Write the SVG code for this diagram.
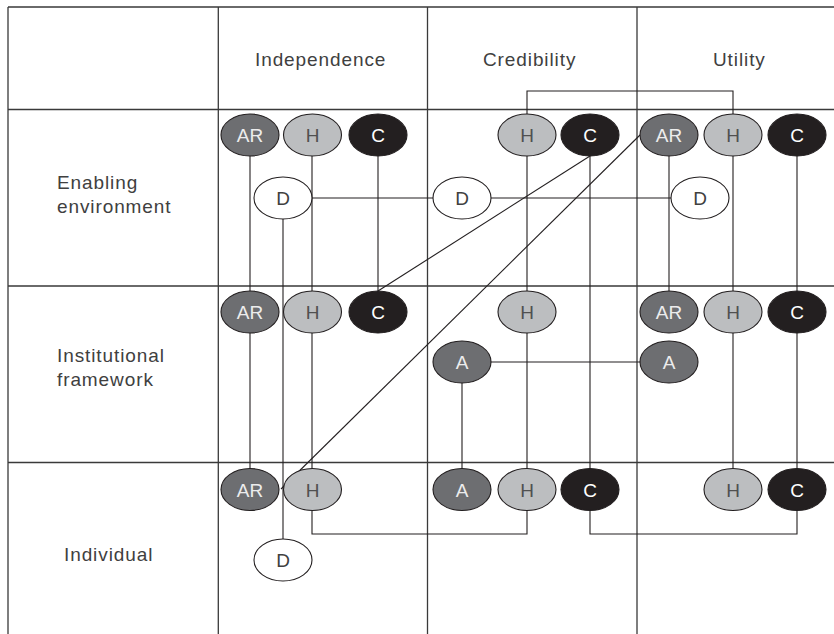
<svg xmlns="http://www.w3.org/2000/svg" width="834" height="634" viewBox="0 0 834 634">
<style>
.grid{stroke:#3a3a3a;stroke-width:1.3;fill:none}
.conn{stroke:#231f20;stroke-width:1.1;fill:none}
.lbl{font-family:"Liberation Sans",Arial,sans-serif;font-size:19px;fill:#404040;letter-spacing:0.9px}
.n ellipse{stroke:#231f20;stroke-width:1.1}
.n text{font-family:"Liberation Sans",Arial,sans-serif;font-size:19px;text-anchor:middle}
.ar ellipse,.a ellipse{fill:#6d6e71}
.ar text,.a text{fill:#ececec}
.h ellipse{fill:#bcbec0}
.h text{fill:#505050}
.c ellipse{fill:#231f20}
.c text{fill:#ffffff}
.d ellipse{fill:#ffffff}
.d text{fill:#404040}
</style>
<rect width="834" height="634" fill="#ffffff"/>
<g id="grid">
<path class="grid" d="M8 7H834M8 109.5H834M8 286H834M8 462.5H834M8 7V634M218.3 7V634M427.5 7V634M637 7V634"/>
</g>
<g id="labels">
<text class="lbl" x="255" y="66">Independence</text>
<text class="lbl" x="483" y="66">Credibility</text>
<text class="lbl" x="713" y="66">Utility</text>
<text class="lbl" x="57" y="189">Enabling</text>
<text class="lbl" x="57" y="213">environment</text>
<text class="lbl" x="57" y="362">Institutional</text>
<text class="lbl" x="57" y="386">framework</text>
<text class="lbl" x="64" y="561">Individual</text>
</g>
<g id="connectors">
<path class="conn" d="M250 135V489"/>
<path class="conn" d="M312 135V534H527V489"/>
<path class="conn" d="M378 135V312"/>
<path class="conn" d="M283 198V560"/>
<path class="conn" d="M283 198H700"/>
<path class="conn" d="M527 489V91H733V489"/>
<path class="conn" d="M590 135V534H797V135"/>
<path class="conn" d="M462 489V362H669"/>
<path class="conn" d="M669 135V312"/>
<path class="conn" d="M590 156L378 291"/>
<path class="conn" d="M640 135L281 489"/>
</g>
<g id="n-ind-ee-ar" class="n ar"><ellipse cx="250" cy="135" rx="29" ry="21"/><text x="250" y="142">AR</text></g>
<g id="n-ind-ee-h" class="n h"><ellipse cx="312.5" cy="135" rx="29" ry="21"/><text x="312.5" y="142">H</text></g>
<g id="n-ind-ee-c" class="n c"><ellipse cx="378" cy="135" rx="29" ry="21"/><text x="378" y="142">C</text></g>
<g id="n-ind-ee-d" class="n d"><ellipse cx="283" cy="198" rx="29" ry="21"/><text x="283" y="205">D</text></g>
<g id="n-cre-ee-h" class="n h"><ellipse cx="527" cy="135" rx="29" ry="21"/><text x="527" y="142">H</text></g>
<g id="n-cre-ee-c" class="n c"><ellipse cx="590" cy="135" rx="29" ry="21"/><text x="590" y="142">C</text></g>
<g id="n-cre-ee-d" class="n d"><ellipse cx="462" cy="198" rx="29" ry="21"/><text x="462" y="205">D</text></g>
<g id="n-uti-ee-ar" class="n ar"><ellipse cx="669" cy="135" rx="29" ry="21"/><text x="669" y="142">AR</text></g>
<g id="n-uti-ee-h" class="n h"><ellipse cx="733" cy="135" rx="29" ry="21"/><text x="733" y="142">H</text></g>
<g id="n-uti-ee-c" class="n c"><ellipse cx="797" cy="135" rx="29" ry="21"/><text x="797" y="142">C</text></g>
<g id="n-uti-ee-d" class="n d"><ellipse cx="700" cy="198" rx="29" ry="21"/><text x="700" y="205">D</text></g>
<g id="n-ind-if-ar" class="n ar"><ellipse cx="250" cy="312" rx="29" ry="21"/><text x="250" y="319">AR</text></g>
<g id="n-ind-if-h" class="n h"><ellipse cx="312.5" cy="312" rx="29" ry="21"/><text x="312.5" y="319">H</text></g>
<g id="n-ind-if-c" class="n c"><ellipse cx="378" cy="312" rx="29" ry="21"/><text x="378" y="319">C</text></g>
<g id="n-cre-if-h" class="n h"><ellipse cx="527" cy="312" rx="29" ry="21"/><text x="527" y="319">H</text></g>
<g id="n-cre-if-a" class="n a"><ellipse cx="462" cy="362" rx="29" ry="21"/><text x="462" y="369">A</text></g>
<g id="n-uti-if-ar" class="n ar"><ellipse cx="669" cy="312" rx="29" ry="21"/><text x="669" y="319">AR</text></g>
<g id="n-uti-if-h" class="n h"><ellipse cx="733" cy="312" rx="29" ry="21"/><text x="733" y="319">H</text></g>
<g id="n-uti-if-c" class="n c"><ellipse cx="797" cy="312" rx="29" ry="21"/><text x="797" y="319">C</text></g>
<g id="n-uti-if-a" class="n a"><ellipse cx="669" cy="362" rx="29" ry="21"/><text x="669" y="369">A</text></g>
<g id="n-ind-in-ar" class="n ar"><ellipse cx="250" cy="489.5" rx="29" ry="21"/><text x="250" y="496.5">AR</text></g>
<g id="n-ind-in-h" class="n h"><ellipse cx="312.5" cy="489.5" rx="29" ry="21"/><text x="312.5" y="496.5">H</text></g>
<g id="n-ind-in-d" class="n d"><ellipse cx="283" cy="560" rx="29" ry="21"/><text x="283" y="567">D</text></g>
<g id="n-cre-in-a" class="n a"><ellipse cx="462" cy="489.5" rx="29" ry="21"/><text x="462" y="496.5">A</text></g>
<g id="n-cre-in-h" class="n h"><ellipse cx="527" cy="489.5" rx="29" ry="21"/><text x="527" y="496.5">H</text></g>
<g id="n-cre-in-c" class="n c"><ellipse cx="590" cy="489.5" rx="29" ry="21"/><text x="590" y="496.5">C</text></g>
<g id="n-uti-in-h" class="n h"><ellipse cx="733" cy="489.5" rx="29" ry="21"/><text x="733" y="496.5">H</text></g>
<g id="n-uti-in-c" class="n c"><ellipse cx="797" cy="489.5" rx="29" ry="21"/><text x="797" y="496.5">C</text></g>
</svg>
